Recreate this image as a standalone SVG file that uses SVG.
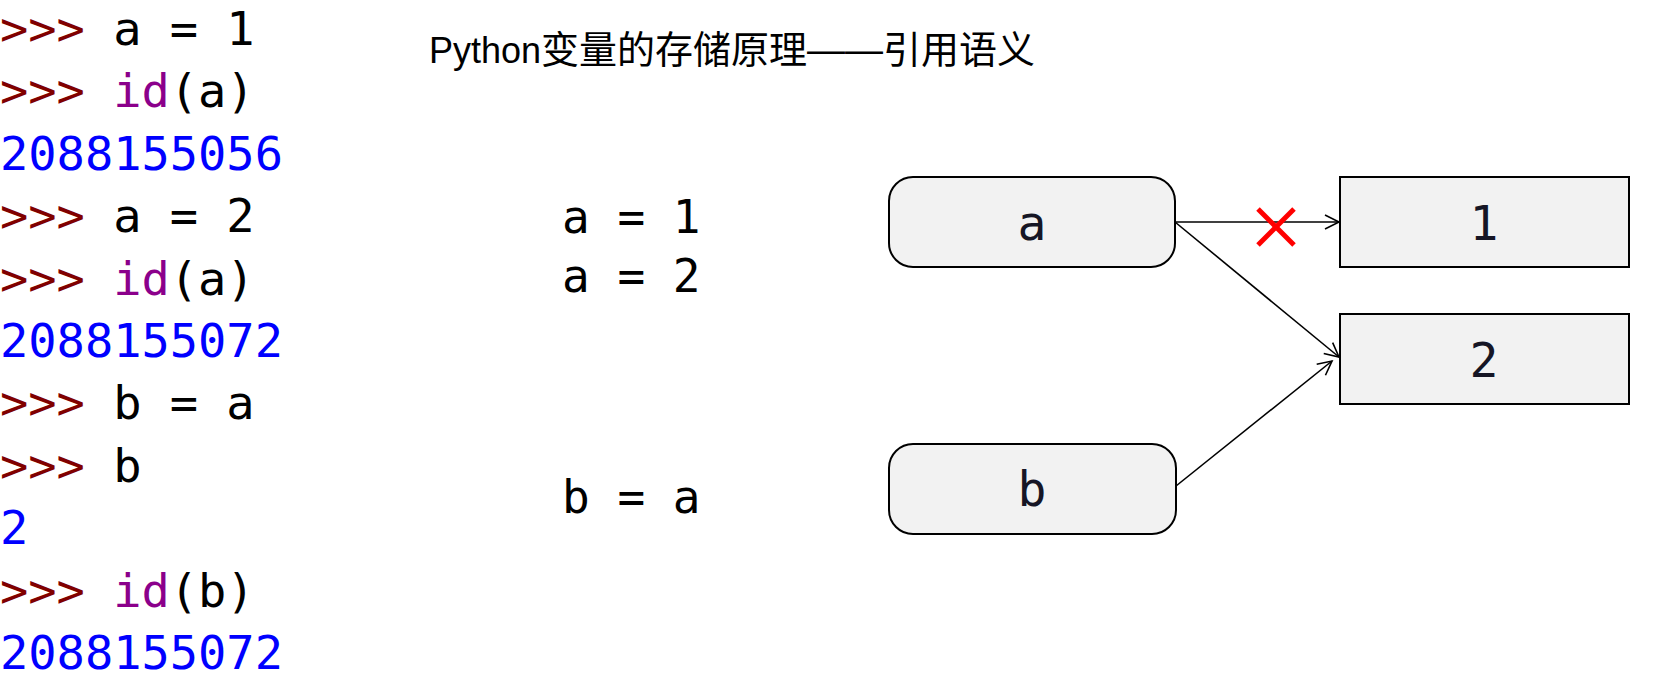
<svg xmlns="http://www.w3.org/2000/svg" width="1653" height="677" viewBox="0 0 1653 677">
<style>
.con{font-family:"DejaVu Sans Mono","Liberation Mono",monospace;font-size:47px}
.p{fill:#800000}
.k{fill:#000}
.f{fill:#8B008B}
.n{fill:#0000FF}
.code{font-family:"DejaVu Sans Mono","Liberation Mono",monospace;font-size:46px;fill:#000}
.title{font-family:"Liberation Sans","Noto Sans CJK SC",sans-serif;font-size:36px;fill:#000}
.cjk{font-size:38px}
.node{fill:#F2F2F2;stroke:#000;stroke-width:2}
.lbl{font-family:"DejaVu Sans Mono","Liberation Mono",monospace;font-size:48px;fill:#161625;text-anchor:middle}
.edge{stroke:#000;stroke-width:1.6;fill:none}
</style>
<defs>
<marker id="arr" markerUnits="userSpaceOnUse" viewBox="-1 -9 17 18" refX="14" refY="0" markerWidth="17" markerHeight="18" orient="auto">
<path d="M0,-7 L14,0 L0,7" fill="none" stroke="#000" stroke-width="1.6"/>
</marker>
</defs>
<rect width="1653" height="677" fill="#fff"/>
<g id="console" class="con">
<text x="0" y="45"><tspan class="p">&gt;&gt;&gt;</tspan><tspan class="k"> a = 1</tspan></text>
<text x="0" y="107.4"><tspan class="p">&gt;&gt;&gt;</tspan><tspan class="f"> id</tspan><tspan class="k">(a)</tspan></text>
<text x="0" y="169.8" class="n">2088155056</text>
<text x="0" y="232.2"><tspan class="p">&gt;&gt;&gt;</tspan><tspan class="k"> a = 2</tspan></text>
<text x="0" y="294.6"><tspan class="p">&gt;&gt;&gt;</tspan><tspan class="f"> id</tspan><tspan class="k">(a)</tspan></text>
<text x="0" y="357" class="n">2088155072</text>
<text x="0" y="419.4"><tspan class="p">&gt;&gt;&gt;</tspan><tspan class="k"> b = a</tspan></text>
<text x="0" y="481.8"><tspan class="p">&gt;&gt;&gt;</tspan><tspan class="k"> b</tspan></text>
<text x="0" y="544.2" class="n">2</text>
<text x="0" y="606.6"><tspan class="p">&gt;&gt;&gt;</tspan><tspan class="f"> id</tspan><tspan class="k">(b)</tspan></text>
<text x="0" y="669" class="n">2088155072</text>
</g>
<text id="title" class="title" x="429" y="63">Python<tspan class="cjk">变量的存储原理——引用语义</tspan></text>
<g id="code" class="code">
<text x="562" y="233">a = 1</text>
<text x="562" y="292">a = 2</text>
<text x="562" y="513">b = a</text>
</g>
<g id="connectors">
<line class="edge" x1="1175" y1="222" x2="1339" y2="222" marker-end="url(#arr)"/>
<line class="edge" x1="1175" y1="222" x2="1339" y2="357" marker-end="url(#arr)"/>
<line class="edge" x1="1176" y1="486" x2="1332" y2="361" marker-end="url(#arr)"/>
<g id="cross" stroke="#FF0000" stroke-width="5">
<line x1="1258" y1="209" x2="1294" y2="245"/>
<line x1="1294" y1="209" x2="1258" y2="245"/>
</g>
</g>
<g id="node-a">
<rect class="node" x="889" y="177" width="286" height="90" rx="24"/>
<text class="lbl" x="1032" y="240">a</text>
</g>
<g id="node-b">
<rect class="node" x="889" y="444" width="287" height="90" rx="24"/>
<text class="lbl" x="1032" y="506">b</text>
</g>
<g id="node-1">
<rect class="node" x="1340" y="177" width="289" height="90"/>
<text class="lbl" x="1484" y="240">1</text>
</g>
<g id="node-2">
<rect class="node" x="1340" y="314" width="289" height="90"/>
<text class="lbl" x="1484" y="377">2</text>
</g>
</svg>
